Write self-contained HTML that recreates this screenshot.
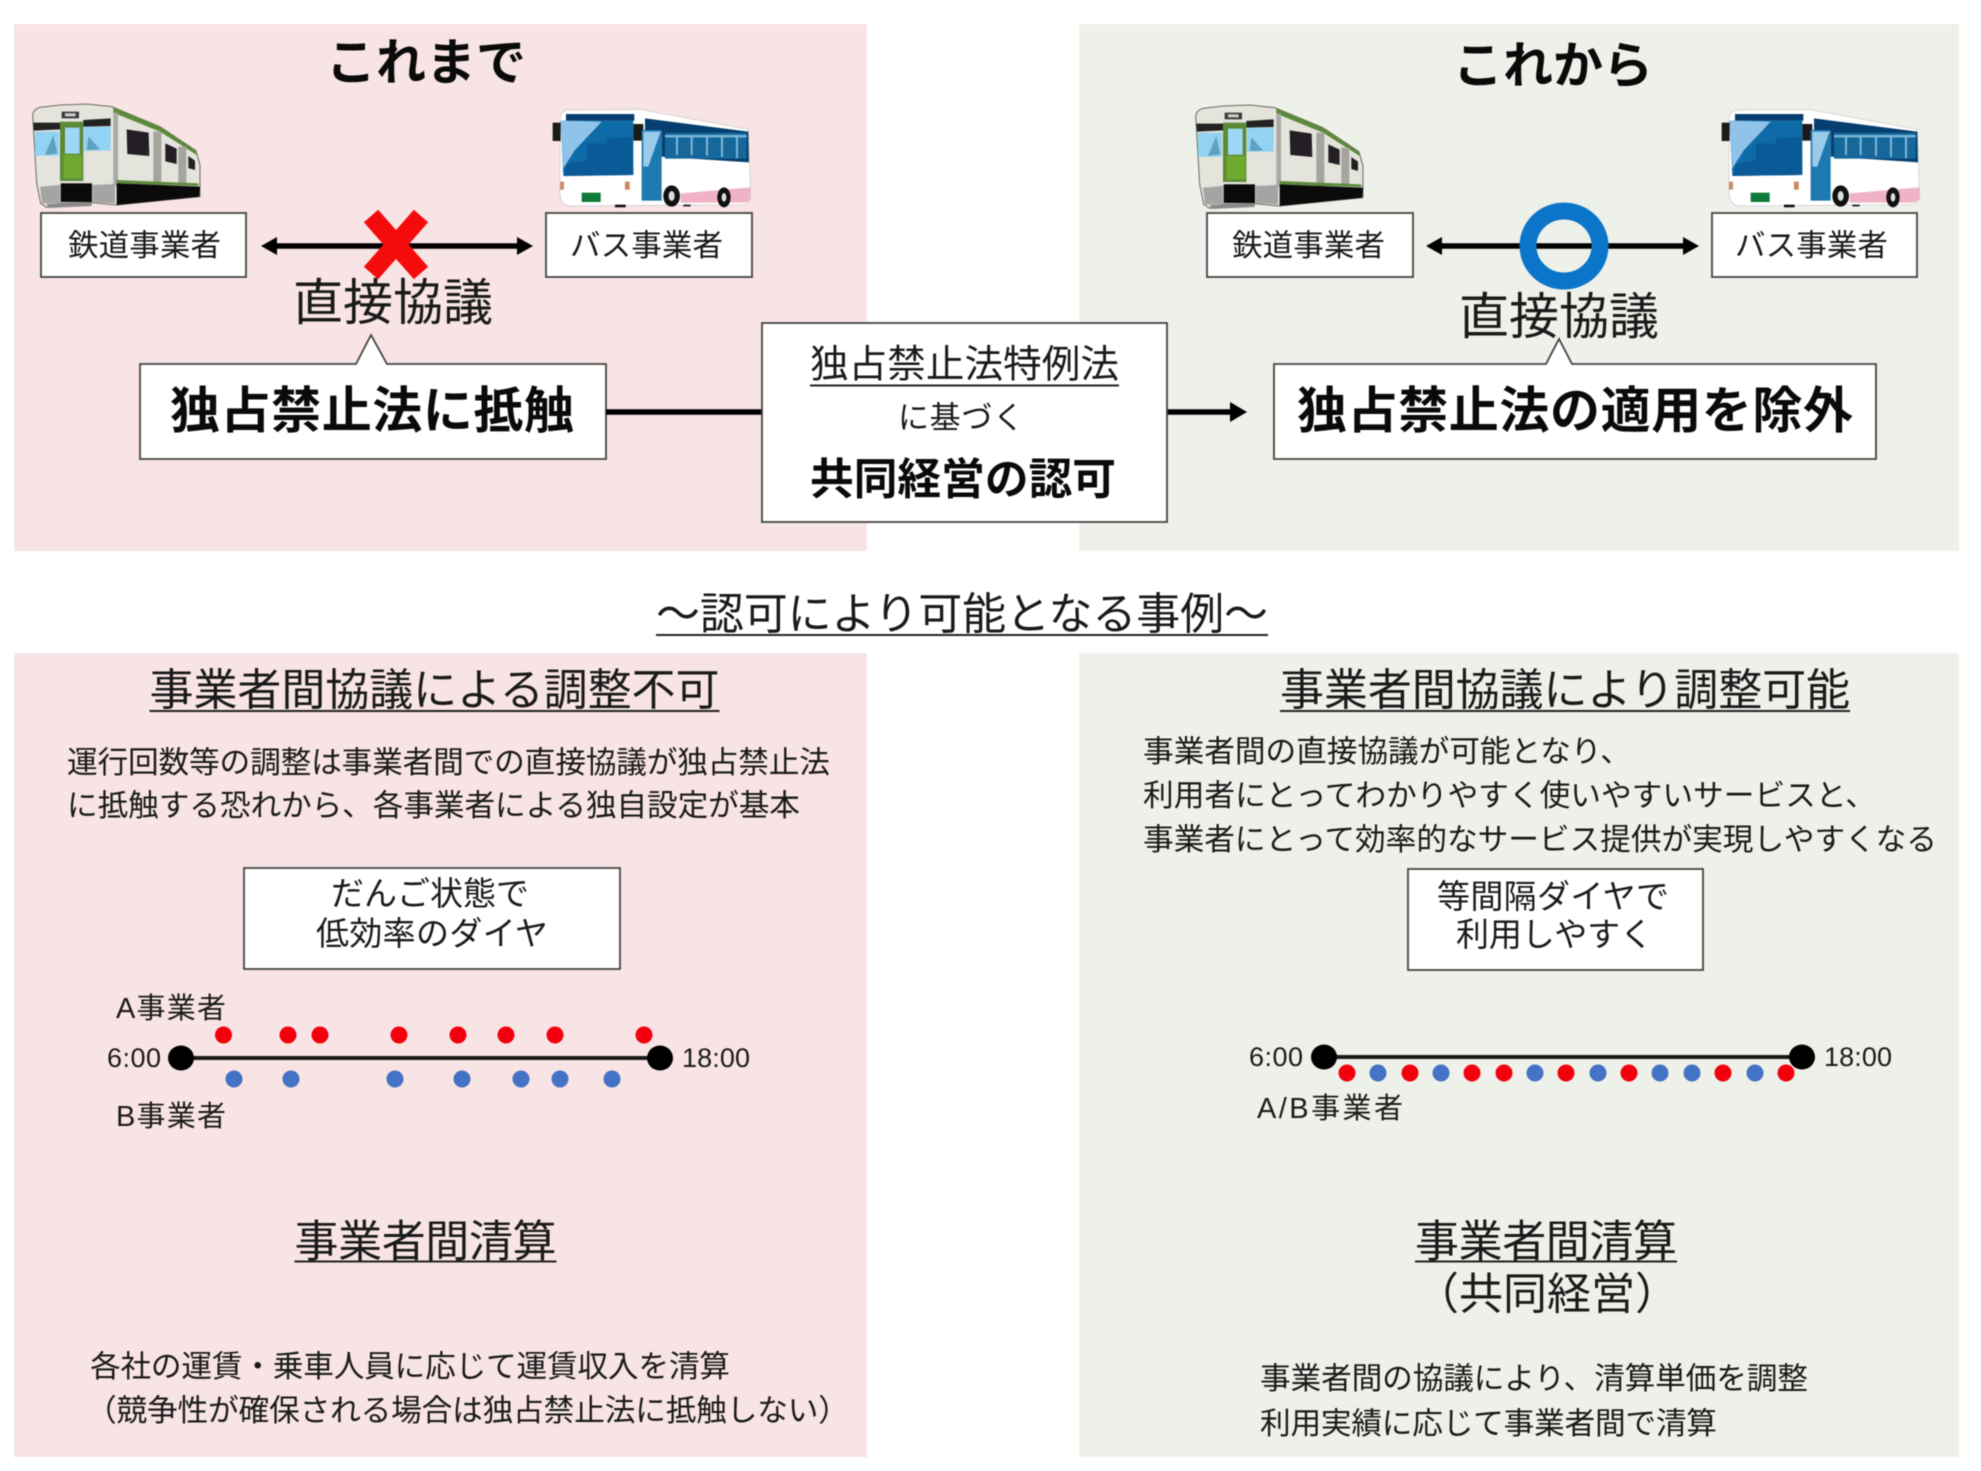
<!DOCTYPE html>
<html lang="ja">
<head>
<meta charset="utf-8">
<title>認可により可能となる事例</title>
<style>
html,body{margin:0;padding:0;background:#fff;width:1981px;height:1471px;overflow:hidden}
svg{display:block;filter:blur(.5px)}
text{font-family:"Liberation Sans","Noto Sans CJK JP",sans-serif;fill:#1a1a1a}
.b{font-weight:700;fill:#0a0a0a}
.box{fill:#fff;stroke:#444;stroke-width:1.8}
.ul{stroke:#222;stroke-width:2}
</style>
</head>
<body>
<svg width="1981" height="1471" viewBox="0 0 1981 1471" xmlns="http://www.w3.org/2000/svg">
<defs>
<g id="train">
  <path d="M38 75 Q40 58 60 52 L120 45 L200 42 L275 50 L420 110 L528 182 L540 225 L540 320 L290 345 L215 338 L120 340 L80 352 L62 340 L50 280 Z" fill="#e4e3dc" stroke="#6b6b60" stroke-width="3"/>
  <path d="M280 52 L420 110 L530 185 L530 195 L420 125 L280 68 Z" fill="#5b8a3a"/>
  <rect x="280" y="68" width="14" height="220" fill="#a9aaa4"/>
  <rect x="400" y="125" width="24" height="165" fill="#a4a59e"/>
  <rect x="475" y="170" width="24" height="115" fill="#a4a59e"/>
  <path d="M40 98 L120 98 L120 118 L42 122 Z" fill="#222"/>
  <path d="M190 90 L272 85 L272 108 L190 110 Z" fill="#222"/>
  <rect x="45" y="125" width="72" height="72" fill="#92d2f2"/>
  <rect x="192" y="110" width="80" height="72" fill="#92d2f2"/>
  <path d="M75 195 L100 135 L112 190 Z" fill="#5f9fbf"/>
  <path d="M200 180 L205 140 L240 178 Z" fill="#5f9fbf"/>
  <rect x="120" y="95" width="70" height="178" fill="#5c8a37"/>
  <rect x="135" y="113" width="44" height="78" fill="#9dd7f4"/>
  <rect x="130" y="195" width="56" height="70" fill="#70a92f"/>
  <rect x="125" y="65" width="52" height="20" fill="#3a3a3a"/>
  <rect x="135" y="70" width="32" height="9" fill="#d0d0d0"/>
  <path d="M60 290 L120 285 L120 340 L66 340 Z" fill="#a4a4a4"/>
  <path d="M218 285 L285 282 L285 340 L218 336 Z" fill="#a4a4a4"/>
  <rect x="122" y="280" width="94" height="56" fill="#0a0a0a"/>
  <path d="M320 118 L386 128 L388 198 L322 192 Z" fill="#231f24"/>
  <path d="M436 160 L470 176 L470 222 L436 214 Z" fill="#231f24"/>
  <path d="M505 198 L525 212 L525 240 L505 234 Z" fill="#231f24"/>
  <path d="M290 270 L535 280 L535 288 L290 280 Z" fill="#5b8a3a"/>
  <path d="M290 280 L540 290 L538 320 L290 345 Z" fill="#0a0a0a"/>
  <path d="M80 342 L215 338 L215 348 L85 354 Z" fill="#8a8a8a"/>
</g>
<g id="bus">
  <path d="M30 60 Q32 34 50 30 L270 28 L300 34 L595 88 L602 290 Q600 312 580 314 L60 318 Q32 316 30 280 Z" fill="#fff" stroke="#c9c5c8" stroke-width="2"/>
  <path d="M285 55 L595 95 L597 187 L335 170 L335 92 L285 92 Z" fill="#063f6f"/>
  <rect x="48" y="42" width="205" height="20" fill="#063f6f"/>
  <path d="M32 62 L250 62 L250 225 L40 228 Z" fill="#0f6ba8"/>
  <path d="M32 62 L155 65 L75 150 L40 205 Z" fill="#8fc3ea"/>
  <path d="M42 228 L50 192 L110 180 L110 130 L170 130 L170 115 L248 110 L250 225 Z" fill="#0b5a98"/>
  <rect x="8" y="68" width="24" height="55" fill="#1a1a1a"/>
  <rect x="250" y="72" width="30" height="50" fill="#1a1a1a"/>
  <rect x="345" y="98" width="245" height="78" fill="#16689b"/>
  <g fill="#7fb7d8"><rect x="345" y="105" width="245" height="7"/><rect x="378" y="105" width="6" height="60"/><rect x="422" y="105" width="6" height="60"/><rect x="468" y="105" width="6" height="62"/><rect x="513" y="105" width="6" height="66"/><rect x="558" y="105" width="6" height="70"/></g>
  <rect x="275" y="90" width="60" height="212" fill="#1d79af"/>
  <path d="M280 95 L332 95 L295 200 L280 200 Z" fill="#9ccbe9"/>
  <path d="M392 280 L602 262 L602 290 Q600 308 580 308 L392 308 Z" fill="#f0b3c6"/>
  <ellipse cx="365" cy="288" rx="25" ry="32" fill="#111"/><ellipse cx="365" cy="288" rx="9" ry="15" fill="#ddd"/>
  <ellipse cx="522" cy="292" rx="20" ry="30" fill="#111"/><ellipse cx="522" cy="292" rx="7" ry="13" fill="#ddd"/>
  <rect x="95" y="278" width="57" height="28" fill="#0f7a3c"/>
  <rect x="30" y="245" width="12" height="24" fill="#c98d6e"/>
  <rect x="225" y="245" width="14" height="24" fill="#d0825a"/>
  <rect x="195" y="314" width="32" height="8" fill="#111"/>
  <rect x="400" y="314" width="22" height="5" fill="#111"/>
</g>
</defs>

<rect x="14" y="24" width="853" height="527" fill="#f8e4e4"/>
<rect x="1079" y="24" width="880" height="527" fill="#eef1ea"/>
<rect x="14" y="653" width="853" height="804" fill="#f8e4e4"/>
<rect x="1079" y="653" width="880" height="804" fill="#eef1ea"/>

<!-- Titles -->
<text class="b" x="326" y="80" font-size="50" textLength="200">これまで</text>
<text class="b" x="1453" y="83" font-size="50" textLength="200">これから</text>

<!-- Vehicles -->
<use href="#train" transform="translate(20 90) scale(.3333)"/>
<use href="#train" transform="translate(1183 91) scale(.3333)"/>
<use href="#bus" transform="translate(550 100) scale(.3333)"/>
<use href="#bus" transform="translate(1719 100) scale(.3333)"/>

<!-- Operator boxes -->
<rect class="box" x="41" y="213" width="205" height="64"/>
<text x="68" y="256" font-size="30.5" textLength="153">鉄道事業者</text>
<rect class="box" x="546" y="213" width="206" height="64"/>
<text x="570" y="256" font-size="30.5" textLength="153">バス事業者</text>
<rect class="box" x="1207" y="213" width="206" height="64"/>
<text x="1232" y="256" font-size="30.5" textLength="153">鉄道事業者</text>
<rect class="box" x="1712" y="213" width="205" height="64"/>
<text x="1735" y="256" font-size="30.5" textLength="153">バス事業者</text>

<!-- Left double arrow + X -->
<line x1="270" y1="246" x2="524" y2="246" stroke="#000" stroke-width="5.5"/>
<path d="M261 246 L277 237 L277 255 Z M533 246 L517 237 L517 255 Z" fill="#000"/>
<line x1="371" y1="216" x2="421" y2="273" stroke="#f40b0b" stroke-width="19"/>
<line x1="421" y1="216" x2="371" y2="273" stroke="#f40b0b" stroke-width="19"/>
<text x="293" y="320" font-size="50" textLength="200">直接協議</text>

<!-- Right double arrow + O -->
<line x1="1435" y1="246" x2="1690" y2="246" stroke="#000" stroke-width="5.5"/>
<path d="M1426 246 L1442 237 L1442 255 Z M1699 246 L1683 237 L1683 255 Z" fill="#000"/>
<ellipse cx="1564" cy="246" rx="36" ry="35" fill="none" stroke="#0b75c9" stroke-width="17"/>
<text x="1459" y="334" font-size="50" textLength="200">直接協議</text>

<!-- Callouts -->
<path d="M140 364 H356 L371 335 L387 364 H606 V459 H140 Z" class="box"/>
<text class="b" x="170" y="428" font-size="50" textLength="404">独占禁止法に抵触</text>
<path d="M1274 364 H1546 L1559 339 L1572 364 H1876 V459 H1274 Z" class="box"/>
<text class="b" x="1297" y="428" font-size="50" textLength="556">独占禁止法の適用を除外</text>

<!-- Connectors -->
<line x1="606" y1="412" x2="762" y2="412" stroke="#000" stroke-width="5.5"/>
<line x1="1167" y1="412" x2="1234" y2="412" stroke="#000" stroke-width="5.5"/>
<path d="M1247 412 L1230 402 L1230 422 Z" fill="#000"/>

<!-- Centre box -->
<rect class="box" x="762" y="323" width="405" height="199"/>
<text x="810" y="377.5" font-size="38.6" textLength="309">独占禁止法特例法</text>
<line class="ul" x1="810" y1="385.5" x2="1119" y2="385.5"/>
<text x="898" y="428.5" font-size="31" textLength="126">に基づく</text>
<text class="b" x="810" y="494.5" font-size="43.7" textLength="306">共同経営の認可</text>

<!-- Middle heading -->
<text x="656" y="629" font-size="44" textLength="612">〜認可により可能となる事例〜</text>
<line class="ul" x1="656" y1="635" x2="1268" y2="635"/>

<!-- Left lower -->
<text x="149.5" y="705" font-size="44" textLength="570">事業者間協議による調整不可</text>
<line class="ul" x1="149.5" y1="711" x2="719.5" y2="711"/>
<text x="67" y="773" font-size="30.7" textLength="763">運行回数等の調整は事業者間での直接協議が独占禁止法</text>
<text x="67" y="816" font-size="30.7" textLength="733">に抵触する恐れから、各事業者による独自設定が基本</text>
<rect class="box" x="244" y="868" width="376" height="101"/>
<text x="331" y="905" font-size="33" textLength="198">だんご状態で</text>
<text x="316" y="945" font-size="33" textLength="232">低効率のダイヤ</text>
<text x="116" y="1018" font-size="29" textLength="110">A事業者</text>
<text x="116" y="1126" font-size="29" textLength="110">B事業者</text>
<text x="107" y="1067" font-size="27" textLength="54">6:00</text>
<text x="682" y="1067" font-size="27" textLength="68">18:00</text>
<line x1="181" y1="1058" x2="660" y2="1058" stroke="#1a1a1a" stroke-width="4"/>
<ellipse cx="181" cy="1058" rx="13" ry="12.5" fill="#000"/>
<ellipse cx="660" cy="1058" rx="13" ry="12.5" fill="#000"/>
<g fill="#f2000d">
<circle cx="223.5" cy="1035" r="8.5"/><circle cx="288" cy="1035" r="8.5"/><circle cx="320" cy="1035" r="8.5"/><circle cx="399" cy="1035" r="8.5"/><circle cx="458" cy="1035" r="8.5"/><circle cx="506" cy="1035" r="8.5"/><circle cx="555" cy="1035" r="8.5"/><circle cx="644" cy="1035" r="8.5"/>
</g>
<g fill="#4472c4">
<circle cx="234" cy="1079" r="8.5"/><circle cx="291" cy="1079" r="8.5"/><circle cx="395" cy="1079" r="8.5"/><circle cx="462" cy="1079" r="8.5"/><circle cx="521" cy="1079" r="8.5"/><circle cx="560" cy="1079" r="8.5"/><circle cx="612" cy="1079" r="8.5"/>
</g>
<text x="294.5" y="1256.5" font-size="44" textLength="262">事業者間清算</text>
<line class="ul" x1="294.5" y1="1261.5" x2="556.5" y2="1261.5"/>
<text x="90" y="1377" font-size="30.7" textLength="640">各社の運賃・乗車人員に応じて運賃収入を清算</text>
<text x="86" y="1421" font-size="30.7" textLength="763">（競争性が確保される場合は独占禁止法に抵触しない）</text>

<!-- Right lower -->
<text x="1280" y="705" font-size="44" textLength="570">事業者間協議により調整可能</text>
<line class="ul" x1="1280" y1="711" x2="1850" y2="711"/>
<text x="1143" y="762" font-size="30.7" textLength="488">事業者間の直接協議が可能となり、</text>
<text x="1143" y="806" font-size="30.7" textLength="733">利用者にとってわかりやすく使いやすいサービスと、</text>
<text x="1143" y="850" font-size="30.7" textLength="794">事業者にとって効率的なサービス提供が実現しやすくなる</text>
<rect class="box" x="1408" y="869" width="295" height="101"/>
<text x="1437" y="908" font-size="33" textLength="232">等間隔ダイヤで</text>
<text x="1456" y="946" font-size="33" textLength="197">利用しやすく</text>
<text x="1249" y="1066" font-size="27" textLength="54">6:00</text>
<text x="1824" y="1066" font-size="27" textLength="68">18:00</text>
<line x1="1324" y1="1057" x2="1802" y2="1057" stroke="#1a1a1a" stroke-width="4"/>
<ellipse cx="1324" cy="1057" rx="13" ry="12.5" fill="#000"/>
<ellipse cx="1802" cy="1057" rx="13" ry="12.5" fill="#000"/>
<g fill="#f2000d">
<circle cx="1347" cy="1073" r="8.5"/><circle cx="1410" cy="1073" r="8.5"/><circle cx="1472" cy="1073" r="8.5"/><circle cx="1504" cy="1073" r="8.5"/><circle cx="1566" cy="1073" r="8.5"/><circle cx="1629" cy="1073" r="8.5"/><circle cx="1723" cy="1073" r="8.5"/><circle cx="1786" cy="1073" r="8.5"/>
</g>
<g fill="#4472c4">
<circle cx="1378" cy="1073" r="8.5"/><circle cx="1441" cy="1073" r="8.5"/><circle cx="1535" cy="1073" r="8.5"/><circle cx="1598" cy="1073" r="8.5"/><circle cx="1660" cy="1073" r="8.5"/><circle cx="1692" cy="1073" r="8.5"/><circle cx="1755" cy="1073" r="8.5"/>
</g>
<text x="1257" y="1118" font-size="29" textLength="146">A/B事業者</text>
<text x="1415" y="1256.5" font-size="44" textLength="262">事業者間清算</text>
<line class="ul" x1="1415" y1="1261.5" x2="1677" y2="1261.5"/>
<text x="1415" y="1309" font-size="44" textLength="264">（共同経営）</text>
<text x="1260" y="1389" font-size="30.7" textLength="548">事業者間の協議により、清算単価を調整</text>
<text x="1260" y="1434" font-size="30.7" textLength="457">利用実績に応じて事業者間で清算</text>
</svg>
</body>
</html>
